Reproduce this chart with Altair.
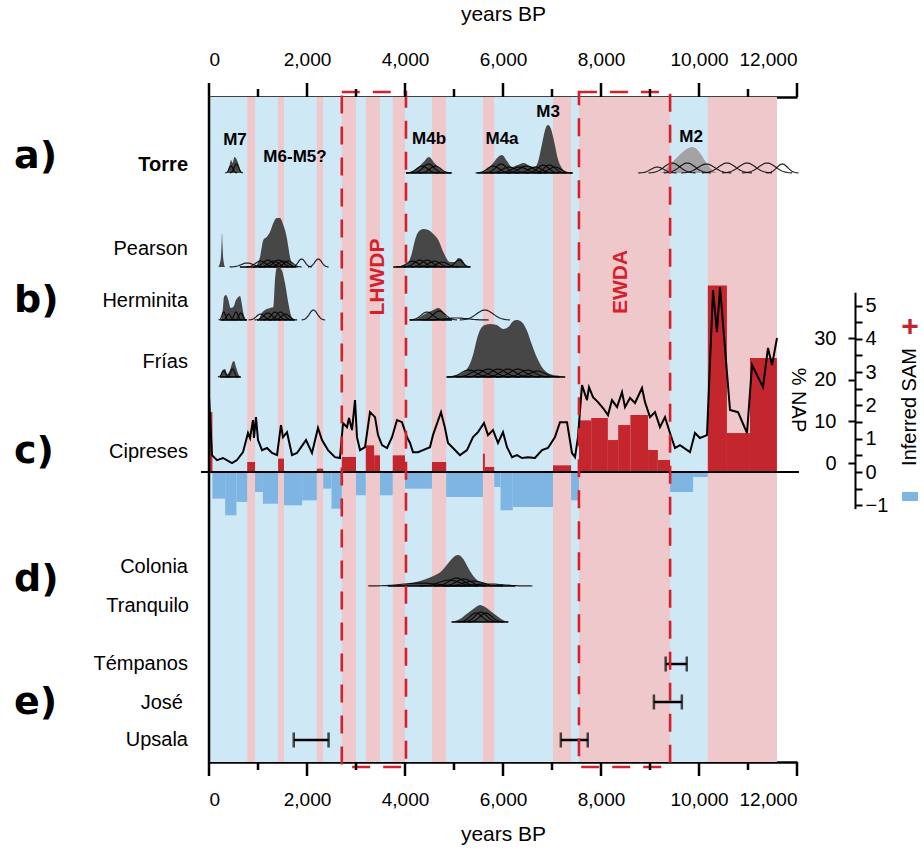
import altair as alt
import numpy as np
import pandas as pd

FONT = "Liberation Sans"
BLUE_BG = "#cfe8f6"
PINK_BG = "#efc8cb"
SAM_RED = "#c4262e"
SAM_BLUE = "#7fb5e2"
BOX_RED = "#d5202b"
DARK = "#474747"
LIGHT = "#a3a3a3"

W, H = 588, 665  # plot area in px

# ---------------- data ----------------
# shaded record and the pink (positive SAM) intervals, years BP
record_start = [0]
record_end = [11590]
pink_start = [780, 1410, 2200, 2710, 3200, 3750, 4550, 5590, 7020, 7550, 10180]
pink_end = [940, 1530, 2330, 3000, 3490, 4000, 4840, 5820, 7390, 9410, 11590]

# time-axis ticks
major_ticks = [0, 2000, 4000, 6000, 8000, 10000, 12000]
minor_ticks = [1000, 3000, 5000, 7000, 9000, 11000]

# dry periods outlined with dashed boxes
box_start = [2710, 7550]
box_end = [4020, 9410]
box_name = ["LHWDP", "EWDA"]
box_name_year = [3450, 8410]

# inferred SAM index (step values)
sam_start = [0, 70, 330, 560, 780, 940, 1100, 1410, 1530, 1900, 2200, 2330, 2500,
             2710, 3000, 3200, 3370, 3490, 3750, 4000, 4550, 4840, 5590, 5630, 5820,
             5950, 6200, 7020, 7390, 7550, 7800, 8140, 8350, 8600, 8960, 9160, 9410,
             9880, 10180, 10570, 11040]
sam_end = [70, 330, 560, 780, 940, 1100, 1410, 1530, 1900, 2200, 2330, 2500, 2710,
           3000, 3200, 3370, 3490, 3750, 4000, 4550, 4840, 5590, 5630, 5820, 5950,
           6200, 7020, 7390, 7550, 7800, 8140, 8350, 8600, 8960, 9160, 9410, 9880,
           10180, 10570, 11040, 11590]
sam_value = [1.8, -0.8, -1.3, -0.9, 0.3, -0.6, -0.95, 0.4, -1.0, -0.85, 0.1, -0.5, -1.1,
             0.45, -0.7, 0.8, 0.5, -0.7, 0.5, -0.5, 0.3, -0.75, 0.55, 0.15, -0.45,
             -1.15, -1.05, 0.2, -0.85, 1.55, 1.62, 0.96, 1.41, 1.71, 0.66, 0.36, -0.6,
             -0.15, 5.6, 1.17, 3.42]

# Cipreses % NAP
nap_year = [0, 61, 163, 286, 469, 571, 694, 796, 837, 898, 918, 959, 1000, 1082, 1184,
            1286, 1388, 1469, 1510, 1592, 1694, 1796, 1980, 2102, 2224, 2306, 2429, 2571,
            2673, 2735, 2816, 2857, 2918, 2980, 3020, 3082, 3184, 3286, 3388, 3449, 3531,
            3633, 3735, 3837, 3939, 4041, 4102, 4163, 4265, 4367, 4510, 4571, 4735, 4816,
            4878, 4980, 5122, 5265, 5388, 5490, 5612, 5694, 5796, 5898, 6000, 6082, 6184,
            6286, 6388, 6510, 6653, 6796, 6918, 7061, 7163, 7306, 7408, 7470, 7530, 7612,
            7714, 7755, 7837, 7939, 8041, 8143, 8224, 8327, 8429, 8490, 8592, 8694, 8837,
            8898, 9000, 9102, 9204, 9306, 9408, 9510, 9612, 9816, 9918, 10020, 10163,
            10286, 10367, 10429, 10633, 10796, 10980, 11082, 11306, 11408, 11490, 11592]
nap_value = [16, 1.9, 0.7, 1.2, 0, 0.7, 2.6, 7.2, 6.0, 10.3, 6.0, 11.0, 5.5, 3.1, 3.6,
             2.4, 1.9, 9.1, 6.2, 7.4, 1.9, 2.4, 5.5, 2.4, 8.4, 5.5, 3.1, 1.4,
             1.2, 9.6, 8.6, 10.8, 7.9, 15.1, 6.2, 3.1, 3.8, 12.2, 11.0, 6.7, 4.3,
             3.6, 6.2, 10.3, 9.8, 6.2, 4.8, 2.6, 2.6, 3.1, 3.8, 6.7, 12.2, 8.4,
             4.8, 3.6, 1.9, 3.1, 6.2, 7.4, 9.6, 6.7, 7.9, 4.8, 7.4, 3.8, 1.4,
             1.9, 1.2, 1.4, 1.2, 3.1, 3.6, 6.2, 9.8, 9.8, 2.4, 1.4, 6.2, 18.7,
             15.1, 18.2, 15.8, 14.6, 13.2, 11.5, 15.1, 13.4, 17.0, 13.4, 15.6, 14.4, 18.0,
             14.6, 11.0, 12.2, 8.6, 11.0, 7.2, 3.6, 4.3, 2.6, 7.2, 6.0, 6.7,
             41.5, 31.4, 42.2, 12.7, 12.2, 7.2, 23.5, 18.2, 27.6, 23.5, 30.0]

# summed probability envelopes (year BP, relative probability)
torre_m7 = [(370, 0), (420, 8), (450, 13), (480, 10), (520, 16), (560, 14), (600, 9), (640, 3), (680, 0)]
torre_m4b = [(3950, 0), (4100, 1), (4250, 5), (4380, 11), (4490, 16), (4600, 10), (4720, 4), (4850, 1), (5000, 0)]
torre_m4a_m3 = [(5480, 0), (5650, 3), (5800, 10), (5900, 16), (5980, 18), (6080, 12), (6180, 6), (6300, 8),
                (6420, 10), (6550, 7), (6650, 6), (6720, 12), (6800, 30), (6880, 46), (6920, 48), (6980, 44),
                (7050, 30), (7120, 14), (7200, 5), (7300, 1), (7420, 0)]
torre_m2 = [(9200, 0), (9400, 8), (9600, 18), (9750, 24), (9850, 26), (9950, 24), (10050, 18), (10150, 10),
            (10250, 4), (10370, 0)]
pearson_a = [(190, 0), (240, 8), (258, 24), (266, 34), (274, 24), (292, 8), (330, 0)]
pearson_b = [(900, 0), (973, 2), (1041, 10), (1109, 27), (1177, 30), (1245, 35), (1313, 44), (1381, 49),
             (1449, 49), (1517, 42), (1585, 30), (1619, 20), (1653, 10), (1721, 2), (1780, 0)]
pearson_c = [(3762, 0), (4034, 3), (4136, 13), (4204, 27), (4272, 35), (4374, 38), (4476, 37), (4578, 33),
             (4680, 27), (4782, 15), (4918, 5), (5020, 5), (5088, 9), (5156, 8), (5224, 3), (5327, 0)]
herminita_a = [(250, 0), (285, 12), (306, 23), (347, 25), (395, 20), (442, 12), (497, 13), (551, 20),
               (599, 23), (633, 24), (667, 17), (701, 7), (769, 0)]
herminita_b = [(1007, 0), (1075, 7), (1143, 10), (1245, 12), (1313, 13), (1347, 40), (1381, 52), (1415, 53),
               (1483, 50), (1551, 37), (1619, 17), (1687, 3), (1755, 0)]
herminita_c = [(4204, 0), (4306, 3), (4442, 7), (4578, 10), (4680, 12), (4782, 8), (4850, 3), (4952, 0)]
frias_a = [(224, 0), (279, 7), (327, 8), (374, 3), (429, 7), (483, 15), (510, 16), (551, 10), (599, 3), (646, 0)]
frias_b = [(4850, 0), (5122, 3), (5292, 10), (5394, 23), (5463, 37), (5531, 47), (5633, 52), (5735, 53),
           (5871, 52), (6007, 48), (6109, 50), (6211, 56), (6279, 57), (6381, 55), (6483, 47), (6585, 33),
           (6687, 20), (6823, 8), (6959, 3), (7163, 1), (7265, 0)]
colonia = [(3660, 0), (4034, 2), (4306, 5), (4578, 10), (4748, 15), (4918, 25), (5020, 30), (5088, 31),
           (5190, 27), (5292, 18), (5394, 10), (5531, 4), (5803, 1), (6245, 0)]
tranquilo = [(4952, 0), (5122, 3), (5258, 8), (5394, 13), (5531, 17), (5633, 15), (5769, 10), (5905, 5),
             (6041, 1), (6109, 0)]

# individual calibrated dates: (age BP, 1-sigma, peak height)
torre_dates = [(450, 40, 7), (560, 45, 9), (4350, 110, 7), (4480, 110, 9), (4620, 110, 7), (5800, 120, 7),
               (5960, 110, 9), (6120, 130, 6), (6330, 150, 6), (6480, 140, 7), (6660, 130, 6), (6820, 110, 8),
               (6950, 110, 8), (7060, 120, 6), (9150, 130, 6), (9450, 160, 10), (9760, 160, 10),
               (10150, 170, 9), (10570, 170, 10), (10980, 170, 10), (11390, 170, 10), (11700, 110, 9)]
pearson_dates = [(780, 120, 4), (1050, 100, 6), (1200, 100, 7), (1320, 100, 6), (1420, 100, 7), (1520, 100, 6),
                 (1620, 90, 6), (1890, 70, 8), (2230, 70, 8), (4150, 110, 6), (4300, 110, 7), (4450, 110, 7),
                 (4600, 110, 6), (4760, 110, 5), (5100, 80, 7)]
herminita_dates = [(300, 35, 8), (400, 40, 6), (550, 40, 8), (650, 40, 7), (1050, 80, 6), (1200, 90, 7),
                   (1350, 80, 8), (1460, 80, 8), (1560, 80, 6), (2130, 80, 10), (4450, 120, 8), (4700, 120, 9),
                   (5050, 220, 2), (5630, 170, 10)]
frias_dates = [(300, 40, 6), (480, 40, 8), (5300, 150, 7), (5500, 150, 7), (5700, 150, 8), (5900, 150, 8),
               (6100, 150, 8), (6300, 150, 8), (6500, 150, 7), (6700, 150, 6)]
colonia_dates = [(4300, 350, 3), (4900, 200, 6), (5050, 150, 8), (5200, 150, 7), (5400, 200, 5), (5700, 300, 2)]
tranquilo_dates = [(5450, 120, 9), (5550, 120, 10), (5650, 120, 9)]

# cluster base lines (start, end)
torre_base = [(4020, 4950), (5480, 7420)]
pearson_base = [(630, 1780), (3760, 5330)]
herminita_base = [(230, 770), (980, 1760), (4100, 4960)]
frias_base = [(220, 650), (4850, 7270)]
colonia_base = [(3650, 6250)]
tranquilo_base = [(4950, 6110)]

# moraine / ice-front ages
eb_site = ["Témpanos", "José", "Upsala", "Upsala"]
eb_start = [9320, 9080, 1730, 7180]
eb_end = [9750, 9650, 2440, 7730]

# moraine labels on the Torre row
m_label = ["M7", "M6-M5?", "M4b", "M4a", "M3", "M2"]
m_year = [530, 1755, 4490, 5980, 6920, 9840]

# ---------------- layout (px within plot area) ----------------
m_label_y = [43, 60, 42, 42, 15, 40]
box_label_y = [180, 185]
row_base = {"Torre": 76, "Pearson": 170, "Herminita": 223, "Frías": 280, "Colonia": 489, "Tranquilo": 525}
SAM_ZERO, SAM_UNIT = 375, 33.3
NAP_RANGE = [366, 241]
MAJOR_LEN, MINOR_LEN = 14, 8

XSCALE = alt.Scale(domain=[0, 12000], nice=False, zero=False)


def xenc(field, axis=None):
    return alt.X(f"{field}:Q", scale=XSCALE, axis=axis)


def x_axis(orient):
    # domain line, labels and title; tick marks are drawn as rules below
    return alt.Axis(
        orient=orient, values=major_ticks, grid=False, ticks=False,
        domainColor="black", domainWidth=2.5, format=",.0f",
        labelFontSize=19, labelFont=FONT, labelColor="black", labelPadding=MAJOR_LEN + 14,
        title="years BP", titleFontSize=21, titleFont=FONT, titleFontWeight="normal",
        titleColor="black", titlePadding=26 if orient == "top" else 14,
    )


layers = []

# background bands
layers.append(
    alt.Chart(pd.DataFrame({"start": record_start, "end": record_end}))
    .mark_rect(color=BLUE_BG)
    .encode(x=xenc("start", x_axis("top")), x2="end")
)
layers.append(
    alt.Chart(pd.DataFrame({"start": pink_start, "end": pink_end}))
    .mark_rect(color=PINK_BG)
    .encode(x=xenc("start", x_axis("bottom")), x2="end")
)


# distribution rows
def row_layers(name, envelopes, dates, bases):
    base = row_base[name]
    ys = alt.Scale(domain=[0, 50], range=[base, base - 50], nice=False, zero=False)
    out = []
    env = pd.concat([
        pd.DataFrame(pts, columns=["year", "p"]).assign(grp=i, shade=shade)
        for i, (pts, shade) in enumerate(envelopes)
    ])
    out.append(
        alt.Chart(env).mark_area(interpolate="monotone")
        .encode(x=xenc("year"), y=alt.Y("p:Q", scale=ys, axis=None),
                detail="grp:N", color=alt.Color("shade:N", scale=None))
    )
    curves = []
    for j, (c, s, h) in enumerate(dates):
        xs = np.linspace(c - 3 * s, c + 3 * s, 41)
        curves.append(pd.DataFrame({"year": xs, "p": h * np.exp(-0.5 * ((xs - c) / s) ** 2), "id": j}))
    out.append(
        alt.Chart(pd.concat(curves)).mark_line(color="black", strokeWidth=1.2, opacity=0.85)
        .encode(x=xenc("year"), y=alt.Y("p:Q", scale=ys, axis=None), detail="id:N")
    )
    bdf = pd.DataFrame(bases, columns=["start", "end"]).assign(p=0)
    out.append(
        alt.Chart(bdf).mark_rule(color="black", strokeWidth=1.6)
        .encode(x=xenc("start"), x2="end", y=alt.Y("p:Q", scale=ys, axis=None))
    )
    return out


layers += row_layers("Torre", [(torre_m7, DARK), (torre_m4b, DARK), (torre_m4a_m3, DARK), (torre_m2, LIGHT)],
                     torre_dates, torre_base)
layers += row_layers("Pearson", [(pearson_a, DARK), (pearson_b, DARK), (pearson_c, DARK)],
                     pearson_dates, pearson_base)
layers += row_layers("Herminita", [(herminita_a, DARK), (herminita_b, DARK), (herminita_c, DARK)],
                     herminita_dates, herminita_base)
layers += row_layers("Frías", [(frias_a, DARK), (frias_b, DARK)], frias_dates, frias_base)
layers += row_layers("Colonia", [(colonia, DARK)], colonia_dates, colonia_base)
layers += row_layers("Tranquilo", [(tranquilo, DARK)], tranquilo_dates, tranquilo_base)

# SAM index
SAM_SCALE = alt.Scale(domain=[-1.1, 5.4], range=[SAM_ZERO + 1.1 * SAM_UNIT, SAM_ZERO - 5.4 * SAM_UNIT],
                      nice=False, zero=False)
sam_df = pd.DataFrame({"start": sam_start, "end": sam_end, "sam": sam_value, "zero": 0})
sam_axis = alt.Axis(orient="right", offset=58, values=[v / 2 for v in range(-2, 11)],
                    labelExpr="datum.value % 1 == 0 ? format(datum.value, 'd') : ''", tickSize=7,
                    tickWidth=2, tickColor="black", domainColor="black", domainWidth=2, labelFontSize=20,
                    labelFont=FONT, labelColor="black", labelPadding=3, title=None, grid=False)
layers.append(
    alt.Chart(sam_df).transform_filter("datum.sam > 0").mark_rect(color=SAM_RED)
    .encode(x=xenc("start"), x2="end", y=alt.Y("sam:Q", scale=SAM_SCALE, axis=sam_axis), y2="zero")
)
layers.append(
    alt.Chart(sam_df).transform_filter("datum.sam < 0").mark_rect(color=SAM_BLUE)
    .encode(x=xenc("start"), x2="end", y=alt.Y("sam:Q", scale=SAM_SCALE, axis=None), y2="zero")
)
layers.append(
    alt.Chart(pd.DataFrame({"zero": [0]})).mark_rule(color="black", strokeWidth=2)
    .encode(y=alt.Y("zero:Q", scale=SAM_SCALE, axis=None), x=alt.value(-8), x2=alt.value(W + 2))
)

# % NAP curve
nap_axis = alt.Axis(orient="left", offset=-(W + 58), values=[0, 10, 20, 30], domain=False, tickSize=7,
                    tickWidth=2, tickColor="black", labelFontSize=20, labelFont=FONT, labelColor="black",
                    labelPadding=12, format="d", title=None, grid=False)
layers.append(
    alt.Chart(pd.DataFrame({"year": nap_year, "nap": nap_value}))
    .mark_line(color="black", strokeWidth=2)
    .encode(x=xenc("year"), y=alt.Y("nap:Q", scale=alt.Scale(domain=[0, 30], range=NAP_RANGE,
                                                             nice=False, zero=False), axis=nap_axis))
)

# ice-front age ranges
eb_df = pd.DataFrame({"site": eb_site, "start": eb_start, "end": eb_end})
ysite = alt.Y("site:N", scale=alt.Scale(type="point", domain=["Témpanos", "José", "Upsala"],
                                         range=[567, 643], padding=0), axis=None)
layers.append(alt.Chart(eb_df).mark_rule(color="black", strokeWidth=2.5)
              .encode(x=xenc("start"), x2="end", y=ysite))
layers.append(alt.Chart(eb_df).mark_tick(color="black", thickness=2.5, size=15)
              .encode(x=xenc("start"), y=ysite))
layers.append(alt.Chart(eb_df).mark_tick(color="black", thickness=2.5, size=15)
              .encode(x=xenc("end"), y=ysite))

# dashed boxes
box_df = pd.DataFrame({"start": box_start, "end": box_end})
layers.append(
    alt.Chart(box_df).mark_rect(filled=False, stroke=BOX_RED, strokeWidth=2.6, strokeDash=[18, 13])
    .encode(x=xenc("start"), x2="end", y=alt.value(-5), y2=alt.value(H + 5))
)
for nm, yr, ly in zip(box_name, box_name_year, box_label_y):
    layers.append(
        alt.Chart(pd.DataFrame({"year": [yr]})).mark_text(text=nm, angle=270, font=FONT, fontSize=21,
                                                          fontWeight="bold", color=BOX_RED)
        .encode(x=xenc("year"), y=alt.value(ly))
    )

# left frame line
layers.append(
    alt.Chart(pd.DataFrame({"x": [0]})).mark_rule(color="black", strokeWidth=2.5)
    .encode(x=xenc("x"))
)

# time-axis tick marks, top and bottom
for vals, length in [(major_ticks, MAJOR_LEN), (minor_ticks, MINOR_LEN)]:
    tdf = pd.DataFrame({"v": vals})
    layers.append(alt.Chart(tdf).mark_rule(color="black", strokeWidth=2.5)
                  .encode(x=xenc("v"), y=alt.value(-length), y2=alt.value(0)))
    layers.append(alt.Chart(tdf).mark_rule(color="black", strokeWidth=2.5)
                  .encode(x=xenc("v"), y=alt.value(H), y2=alt.value(H + length)))

# moraine labels
for lab, yr, ly in zip(m_label, m_year, m_label_y):
    layers.append(
        alt.Chart(pd.DataFrame({"year": [yr]})).mark_text(text=lab, font=FONT, fontSize=17,
                                                          fontWeight="bold", color="black")
        .encode(x=xenc("year"), y=alt.value(ly))
    )


def text_at(txt, x, y, size=20, weight="normal", align="right", color="black", angle=0, font=FONT):
    return (alt.Chart(pd.DataFrame({"t": [0]}))
            .mark_text(text=txt, font=font, fontSize=size, fontWeight=weight, align=align,
                       baseline="middle", color=color, angle=angle)
            .encode(x=alt.value(x), y=alt.value(y)))


# site names
site_names = ["Torre", "Pearson", "Herminita", "Frías", "Cipreses", "Colonia", "Tranquilo",
              "Témpanos", "José", "Upsala"]
site_y = [68, 152, 204, 265, 355, 470, 509, 567, 606, 643]
site_x = [-21, -21, -21, -21, -21, -21, -20, -21, -26, -21]
for nm, sx, sy in zip(site_names, site_x, site_y):
    layers.append(text_at(nm, sx, sy, weight="bold" if nm == "Torre" else "normal"))

# panel letters
for lt, ly in zip(["a)", "b)", "c)", "d)", "e)"], [60, 204, 355, 483, 606]):
    layers.append(text_at(lt, -195, ly, size=38, weight="bold", align="left", font="DejaVu Sans"))

# right-hand axis titles and SAM legend
layers.append(text_at("% NAP", 589, 303, size=20, align="center", angle=90))
layers.append(text_at("Inferred SAM", 701, 310, size=20, align="center", angle=270))
layers.append(text_at("+", 701, 230, size=30, weight="bold", align="center", color=SAM_RED))
layers.append(
    alt.Chart(pd.DataFrame({"t": [0]})).mark_rect(color=SAM_BLUE)
    .encode(x=alt.value(693), x2=alt.value(709), y=alt.value(395), y2=alt.value(404))
)

chart = (
    alt.layer(*layers)
    .resolve_scale(y="independent")
    .resolve_axis(x="independent", y="independent")
    .properties(width=W, height=H, autosize=alt.AutoSizeParams(type="none"),
                padding={"left": 209, "top": 97, "right": 127, "bottom": 88})
    .configure_view(stroke=None)
)

chart.save("out.html", embed_options={"renderer": "svg", "actions": False})
